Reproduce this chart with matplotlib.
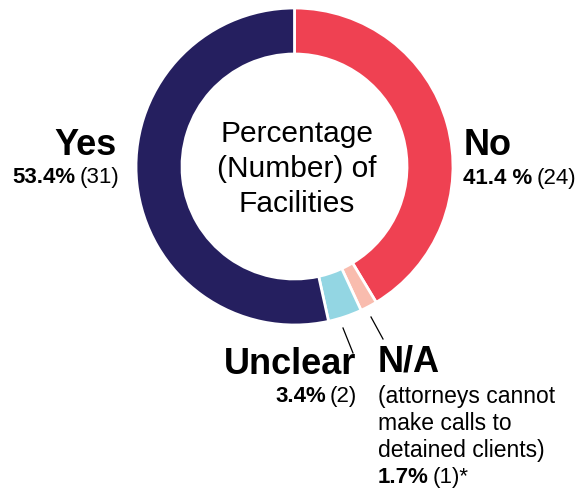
import matplotlib
matplotlib.use('Agg')
import matplotlib.pyplot as plt

# slices, clockwise from 12 o'clock
labels = ['No', 'N/A', 'Unclear', 'Yes']
counts = [24, 1, 2, 31]
percents = ['41.4 %', '1.7%', '3.4%', '53.4%']
count_text = ['(24)', '(1)*', '(2)', '(31)']
colors = ['#ef4152', '#f9bcae', '#93d6e3', '#251f5f']
center_lines = ['Percentage', '(Number) of', 'Facilities']
na_note = ['(attorneys cannot', 'make calls to', 'detained clients)']

W, H = 579, 493
plt.rcParams['font.family'] = ['Liberation Sans', 'DejaVu Sans']

fig = plt.figure(figsize=(W / 100, H / 100), dpi=100)
ax = fig.add_axes([0, 0, 1, 1])

cx, cy, R = 294.5, 166.5, 158.5
ax.pie(counts, colors=colors, startangle=90, counterclock=False,
       radius=R, center=(cx, H - cy),
       wedgeprops=dict(width=46, edgecolor='white', linewidth=2))
ax.set_xlim(0, W)
ax.set_ylim(0, H)
ax.set_aspect('equal')
ax.axis('off')

renderer = fig.canvas.get_renderer()


def put(px, py, s, size, weight='normal', ha='left'):
    # px, py in image pixels (y measured from top)
    return ax.text(px, H - py, s, fontsize=size, fontweight=weight,
                   ha=ha, va='baseline', color='black')


def stat_line(px, py, pct, cnt, ha='left', size=16):
    gap = 4
    if ha == 'left':
        t = put(px, py, pct, size, 'bold')
        w = t.get_window_extent(renderer).width
        put(px + w + gap, py, cnt, size)
    else:
        t = put(px, py, cnt, size, ha='right')
        w = t.get_window_extent(renderer).width
        put(px - w - gap, py, pct, size, 'bold', ha='right')


# centre title
for i, line in enumerate(center_lines):
    put(297, 142 + 35 * i, line, 21.5, ha='center')

# No
put(464, 155, labels[0], 26, 'bold')
stat_line(463, 184, percents[0], count_text[0])

# Yes
put(117, 155, labels[3], 26, 'bold', ha='right')
stat_line(119, 183, percents[3], count_text[3], ha='right')

# Unclear
put(356, 374, labels[2], 26, 'bold', ha='right')
stat_line(357, 402, percents[2], count_text[2], ha='right')
ax.plot([343, 353], [H - 328, H - 353], color='black', lw=0.9)

# N/A
put(378, 372, labels[1], 26, 'bold')
for i, line in enumerate(na_note):
    put(378, 403 + 27 * i, line, 16.5)
stat_line(378, 483, percents[1], count_text[1])
ax.plot([371, 383], [H - 317, H - 339], color='black', lw=0.9)

fig.savefig('out.png', dpi=100)
